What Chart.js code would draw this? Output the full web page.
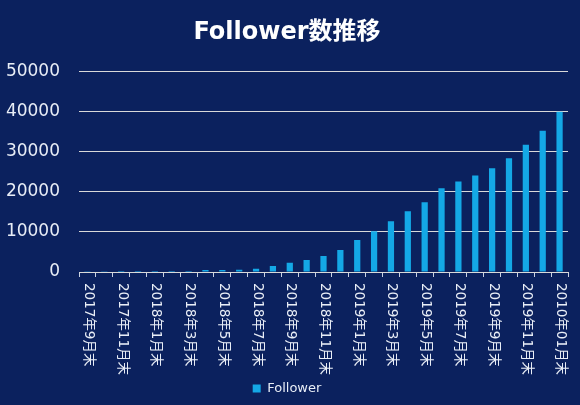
<!DOCTYPE html>
<html>
<head>
<meta charset="utf-8">
<script src="https://cdn.jsdelivr.net/npm/chart.js@4"></script>
<style>
  html, body { margin: 0; padding: 0; background: #0b215e; }
  #wrap { width: 580px; height: 405px; }
</style>
</head>
<body>
<div id="wrap"><canvas id="followers"></canvas></div>
<script>
const months = [
  "2017年9月末", "2017年10月末", "2017年11月末", "2017年12月末",
  "2018年1月末", "2018年2月末", "2018年3月末", "2018年4月末",
  "2018年5月末", "2018年6月末", "2018年7月末", "2018年8月末",
  "2018年9月末", "2018年10月末", "2018年11月末", "2018年12月末",
  "2019年1月末", "2019年2月末", "2019年3月末", "2019年4月末",
  "2019年5月末", "2019年6月末", "2019年7月末", "2019年8月末",
  "2019年9月末", "2019年10月末", "2019年11月末", "2019年12月末",
  "2010年01月末",
];
const followers = [
  60, 200, 220, 230, 250, 260, 280, 500,
  520, 560, 800, 1500, 2300, 3000, 4000, 5500,
  8000, 10200, 12700, 15200, 17400, 20900, 22600, 24100,
  25900, 28400, 31800, 35300, 40000,
];
const yTicks = [0, 10000, 20000, 30000, 40000, 50000];

const textColor = "#e8edf6";
const fontFamily = '"DejaVu Sans", "Noto Sans CJK JP", sans-serif';

// Chart.js only rotates x labels counter-clockwise, the original reads top-down,
// so the x labels are switched off (space is kept in afterFit) and drawn here.
const downwardLabels = {
  id: "downwardLabels",
  afterDraw(chart) {
    const xScale = chart.scales.x;
    const ctx = chart.ctx;
    ctx.save();
    ctx.fillStyle = textColor;
    ctx.font = "13.5px " + fontFamily;
    ctx.textAlign = "left";
    ctx.textBaseline = "middle";
    months.forEach((label, i) => {
      if (i % 2 !== 0) return;
      const x = xScale.getPixelForTick(i);
      ctx.save();
      ctx.translate(x + 1, xScale.top + 11);
      ctx.rotate(Math.PI / 2);
      ctx.fillText(label, 0, 0);
      ctx.restore();
    });
    ctx.restore();
  },
};

new Chart(document.getElementById("followers"), {
  type: "bar",
  data: {
    labels: months,
    datasets: [
      {
        label: "Follower",
        data: followers,
        backgroundColor: "#14a8e6",
        categoryPercentage: 1,
        barPercentage: 0.37,
      },
    ],
  },
  options: {
    responsive: true,
    maintainAspectRatio: false,
    animation: false,
    layout: { padding: { left: 6, right: 12, top: 7, bottom: 0 } },
    plugins: {
      title: {
        display: true,
        text: "Follower数推移",
        color: "#ffffff",
        font: { family: fontFamily, size: 24, weight: "bold" },
        padding: { top: 11, bottom: 25 },
      },
      legend: {
        position: "bottom",
        labels: {
          color: textColor,
          font: { family: fontFamily, size: 13 },
          boxWidth: 8,
          boxHeight: 8,
          padding: 2,
        },
      },
      tooltip: { enabled: false },
    },
    scales: {
      x: {
        grid: {
          offset: true,
          drawOnChartArea: false,
          color: "#c9d2e3",
          tickLength: 5,
        },
        border: { color: "#d9d9d9" },
        ticks: { display: false },
        afterFit: (scale) => {
          scale.height = 108;
        },
      },
      y: {
        min: 0,
        max: 50000,
        afterBuildTicks: (scale) => {
          scale.ticks = yTicks.map((v) => ({ value: v }));
        },
        afterFit: (scale) => {
          scale.width = 73;
        },
        grid: { color: "#d9d9d9", drawTicks: false },
        border: { display: false },
        ticks: {
          color: textColor,
          font: { family: fontFamily, size: 17 },
          padding: 19,
          callback: (value) => String(value),
        },
      },
    },
  },
  plugins: [downwardLabels],
});
</script>
</body>
</html>
